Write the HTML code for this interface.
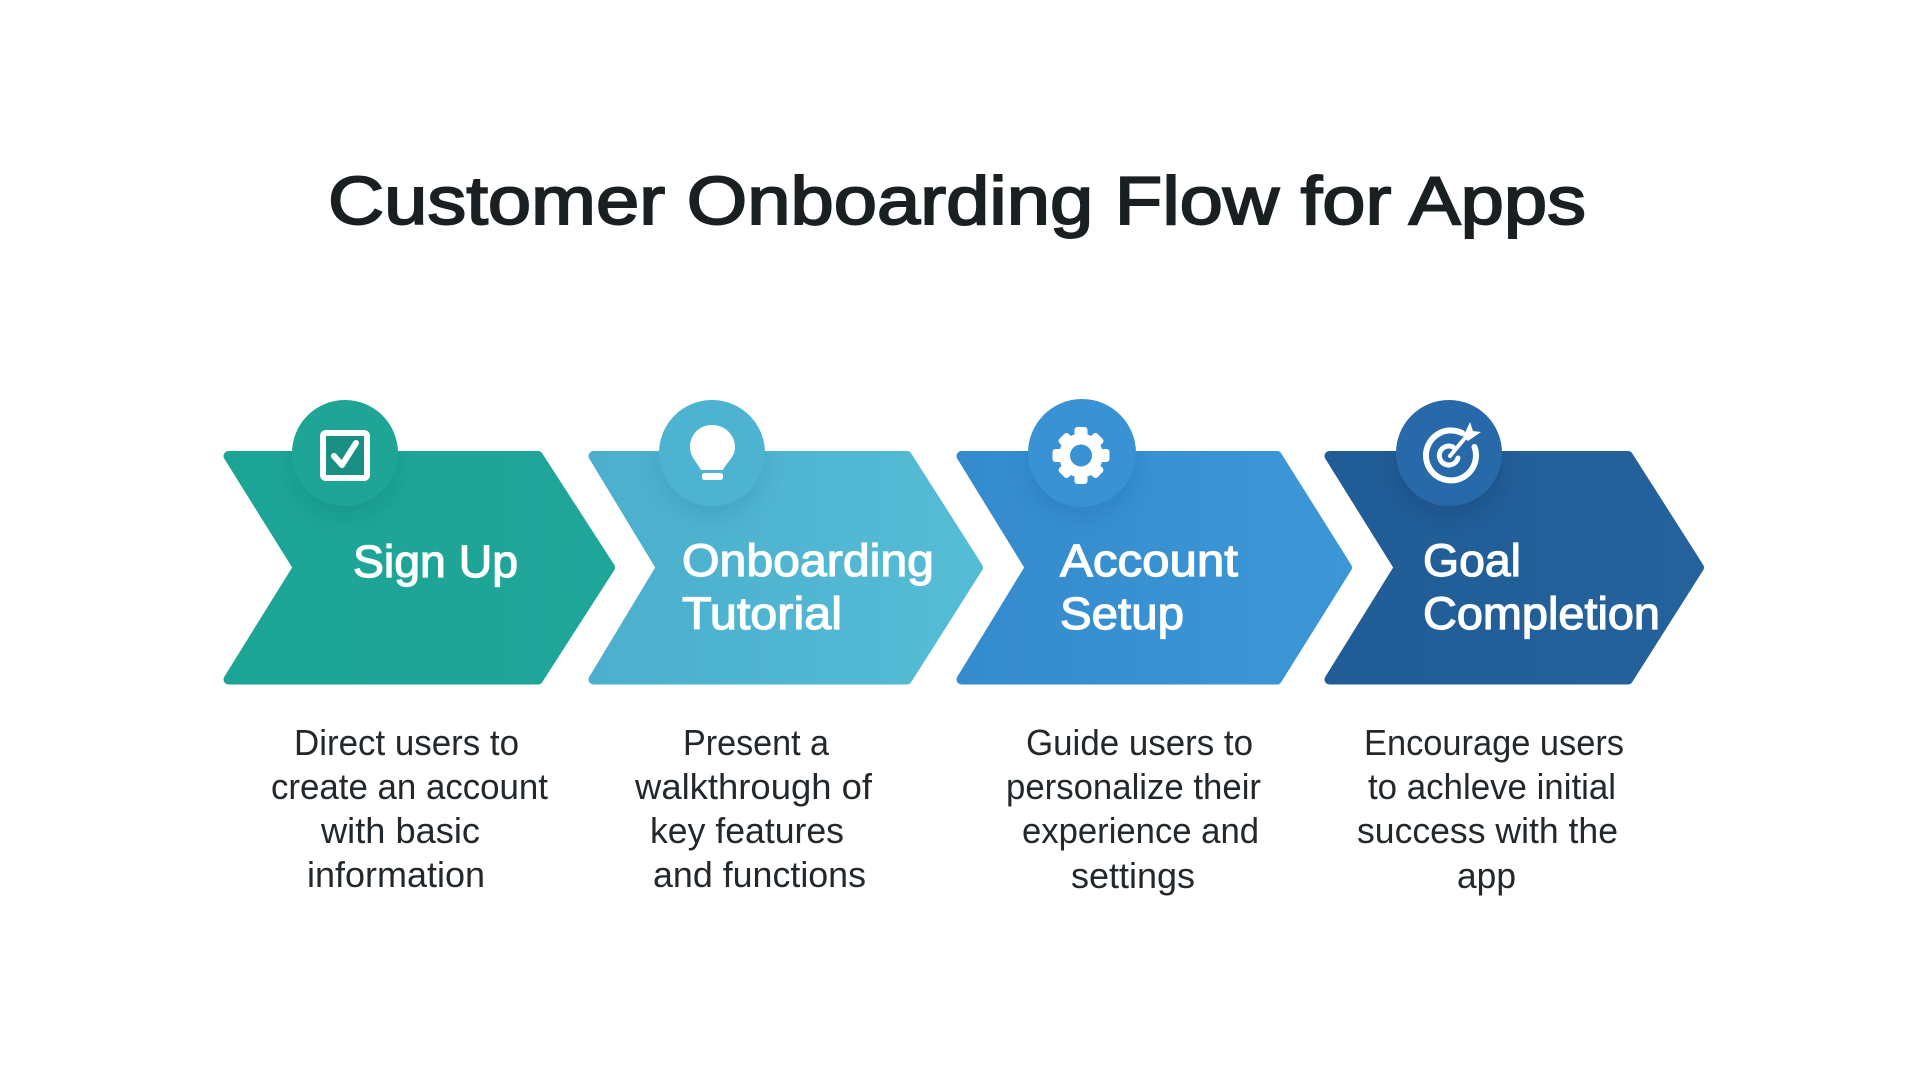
<!DOCTYPE html>
<html><head><meta charset="utf-8"><title>Customer Onboarding Flow for Apps</title>
<style>html,body{margin:0;padding:0;background:#fff;width:1920px;height:1080px;overflow:hidden}svg{display:block}
text{font-family:"Liberation Sans",sans-serif}
.t{font-size:68px;font-weight:400;fill:#1a1f22;stroke:#1a1f22;stroke-width:1.9px}
.h{font-size:45px;fill:#fff;stroke:#fff;stroke-width:1.2px}
.d{font-size:36px;fill:#22282c}</style></head><body>
<svg width="1920" height="1080" viewBox="0 0 1920 1080" xmlns="http://www.w3.org/2000/svg">
<defs>
<linearGradient id="g1" x1="0" x2="1" y1="0" y2="0"><stop offset="0" stop-color="#1ca595"/><stop offset="1" stop-color="#20a59a"/></linearGradient>
<linearGradient id="g2" x1="0" x2="1" y1="0" y2="0"><stop offset="0" stop-color="#4bafcd"/><stop offset="1" stop-color="#55bcd6"/></linearGradient>
<linearGradient id="g3" x1="0" x2="1" y1="0" y2="0"><stop offset="0" stop-color="#348bcd"/><stop offset="1" stop-color="#3d97d6"/></linearGradient>
<linearGradient id="g4" x1="0" x2="1" y1="0" y2="0"><stop offset="0" stop-color="#205c96"/><stop offset="1" stop-color="#25629c"/></linearGradient>
<filter id="b" x="-40%" y="-40%" width="180%" height="180%"><feGaussianBlur stdDeviation="9"/></filter>
<clipPath id="c1"><path d="M223 451H541L615 567.5L541 684.5H223L292 567.5Z"/></clipPath>
<clipPath id="c2"><path d="M588 451H910L983 567.5L910 684.5H588L655 567.5Z"/></clipPath>
<clipPath id="c3"><path d="M956 451H1280L1352 567.5L1280 684.5H956L1024 567.5Z"/></clipPath>
<clipPath id="c4"><path d="M1324 451H1631L1704 567.5L1631 684.5H1324L1393 567.5Z"/></clipPath>
</defs>

<text class="t" x="328" y="224" textLength="1258" lengthAdjust="spacingAndGlyphs">Customer Onboarding Flow for Apps</text>

<!-- chevrons -->
<path d="M228.500 456H538L610 567.5L538 679.5H228.500L298 567.5Z" fill="url(#g1)" stroke="url(#g1)" stroke-width="10" stroke-linejoin="round"/>
<path d="M593.500 456H907L978 567.5L907 679.5H593.500L661 567.5Z" fill="url(#g2)" stroke="url(#g2)" stroke-width="10" stroke-linejoin="round"/>
<path d="M961.500 456H1277L1347 567.5L1277 679.5H961.500L1030 567.5Z" fill="url(#g3)" stroke="url(#g3)" stroke-width="10" stroke-linejoin="round"/>
<path d="M1329.500 456H1628L1699 567.5L1628 679.5H1329.500L1399 567.5Z" fill="url(#g4)" stroke="url(#g4)" stroke-width="10" stroke-linejoin="round"/>

<!-- circle shadows -->
<g clip-path="url(#c1)"><circle cx="344" cy="465" r="54" fill="#0f8478" opacity=".3" filter="url(#b)"/></g>
<g clip-path="url(#c2)"><circle cx="712" cy="465" r="54" fill="#2f8fae" opacity=".3" filter="url(#b)"/></g>
<g clip-path="url(#c3)"><circle cx="1082" cy="465" r="55" fill="#1f6fae" opacity=".3" filter="url(#b)"/></g>
<g clip-path="url(#c4)"><circle cx="1449" cy="465" r="54" fill="#123f70" opacity=".3" filter="url(#b)"/></g>

<!-- circles -->
<circle cx="345" cy="453" r="53" fill="#1fa595"/>
<circle cx="712" cy="453" r="53" fill="#4db3d0"/>
<circle cx="1082" cy="453" r="54" fill="#3992d3"/>
<circle cx="1449" cy="453" r="53" fill="#2769a9"/>

<!-- check icon -->
<rect x="323" y="433" width="44" height="45" rx="3" fill="#1a8f83" stroke="#fff" stroke-width="6" stroke-linejoin="round"/>
<path d="M334 456L342 465L356 443" fill="none" stroke="#fff" stroke-width="6" stroke-linecap="round" stroke-linejoin="round"/>

<!-- bulb icon -->
<path d="M712 425C698 425 690 436 690 447C690 457 697 462 701 470H723C727 462 735 457 735 447C735 436 726 425 712 425Z" fill="#fff"/>
<rect x="702" y="473" width="21" height="7" rx="2.5" fill="#fff"/>

<!-- gear icon -->
<g fill="#fff">
<circle cx="1081" cy="455.5" r="22"/>
<rect x="1074.5" y="427" width="13" height="57" rx="3"/>
<rect x="1074.5" y="428.5" width="13" height="54" rx="3" transform="rotate(45 1081 455.5)"/>
<rect x="1074.5" y="427" width="13" height="57" rx="3" transform="rotate(90 1081 455.5)"/>
<rect x="1074.5" y="428.5" width="13" height="54" rx="3" transform="rotate(135 1081 455.5)"/>
</g>
<circle cx="1081" cy="455.5" r="11" fill="#3992d3"/>

<!-- target icon -->
<path d="M1462 433A25 25 0 1 0 1474.500 447" fill="none" stroke="#fff" stroke-width="6" stroke-linecap="round"/>
<path d="M1453 447A9.500 9.500 0 1 0 1458 458" fill="none" stroke="#fff" stroke-width="5" stroke-linecap="round"/>
<path d="M1450 456L1465 438" stroke="#fff" stroke-width="4" stroke-linecap="round"/>
<path d="M1470 422L1473 431L1481 432L1468 441L1463 437Z" fill="#fff"/>

<!-- headings -->
<text class="h" x="353" y="577" textLength="165" lengthAdjust="spacingAndGlyphs">Sign Up</text>
<text class="h" x="682" y="576" textLength="252" lengthAdjust="spacingAndGlyphs">Onboarding</text>
<text class="h" x="682" y="629" textLength="160" lengthAdjust="spacingAndGlyphs">Tutorial</text>
<text class="h" x="1060" y="576" textLength="178" lengthAdjust="spacingAndGlyphs">Account</text>
<text class="h" x="1060" y="629" textLength="124" lengthAdjust="spacingAndGlyphs">Setup</text>
<text class="h" x="1423" y="576" textLength="98" lengthAdjust="spacingAndGlyphs">Goal</text>
<text class="h" x="1423" y="629" textLength="237" lengthAdjust="spacingAndGlyphs">Completion</text>

<!-- descriptions -->
<text class="d" x="294" y="755" textLength="225" lengthAdjust="spacingAndGlyphs">Direct users to</text>
<text class="d" x="271" y="799" textLength="277" lengthAdjust="spacingAndGlyphs">create an account</text>
<text class="d" x="321" y="843" textLength="159" lengthAdjust="spacingAndGlyphs">with basic</text>
<text class="d" x="307" y="887" textLength="178" lengthAdjust="spacingAndGlyphs">information</text>

<text class="d" x="683" y="755" textLength="146" lengthAdjust="spacingAndGlyphs">Present a</text>
<text class="d" x="635" y="799" textLength="237" lengthAdjust="spacingAndGlyphs">walkthrough of</text>
<text class="d" x="650" y="843" textLength="194" lengthAdjust="spacingAndGlyphs">key features</text>
<text class="d" x="653" y="887" textLength="213" lengthAdjust="spacingAndGlyphs">and functions</text>

<text class="d" x="1026" y="755" textLength="227" lengthAdjust="spacingAndGlyphs">Guide users to</text>
<text class="d" x="1006" y="799" textLength="255" lengthAdjust="spacingAndGlyphs">personalize their</text>
<text class="d" x="1022" y="843" textLength="237" lengthAdjust="spacingAndGlyphs">experience and</text>
<text class="d" x="1071" y="888" textLength="124" lengthAdjust="spacingAndGlyphs">settings</text>

<text class="d" x="1364" y="755" textLength="260" lengthAdjust="spacingAndGlyphs">Encourage users</text>
<text class="d" x="1368" y="799" textLength="248" lengthAdjust="spacingAndGlyphs">to achleve initial</text>
<text class="d" x="1357" y="843" textLength="261" lengthAdjust="spacingAndGlyphs">success with the</text>
<text class="d" x="1457" y="888" textLength="59" lengthAdjust="spacingAndGlyphs">app</text>
</svg>
</body></html>
